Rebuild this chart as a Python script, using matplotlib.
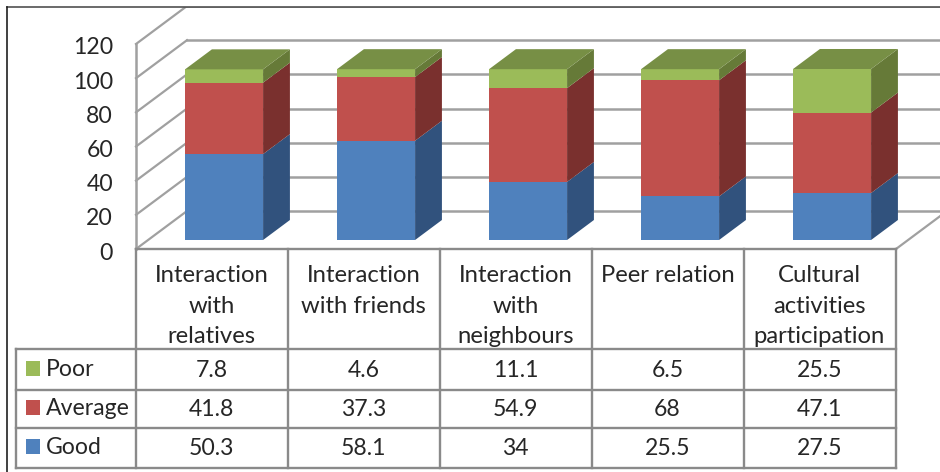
import matplotlib.pyplot as plt
from matplotlib.patches import Rectangle, Polygon
from matplotlib.transforms import Affine2D, ScaledTranslation

categories = [
    ["Interaction", "with", "relatives"],
    ["Interaction", "with friends"],
    ["Interaction", "with", "neighbours"],
    ["Peer relation"],
    ["Cultural", "activities", "participation"],
]
good = [50.3, 58.1, 34, 25.5, 27.5]
average = [41.8, 37.3, 54.9, 68, 47.1]
poor = [7.8, 4.6, 11.1, 6.5, 25.5]
y_ticks = [0, 20, 40, 60, 80, 100, 120]

W, H = 940, 472
FONT = "Lato"
FS = 16.6
FS_HEADER = 17.2
GRID = "#a0a0a0"
TABLE = "#8a8a8a"
TEXT = "#262626"

fig = plt.figure(figsize=(W / 100, H / 100), dpi=100)
fig.patch.set_facecolor("white")

# pixel coordinates for the frame and the data table
px = Affine2D().scale(1 / W, -1 / H).translate(0, 1) + fig.transFigure

ax = fig.add_axes([136 / W, 1 - 249 / H, 760 / W, 205 / H])
ax.set_xlim(0, 5)
ax.set_ylim(0, 120)
ax.set_xticks([])
ax.set_yticks(y_ticks)
ax.tick_params(axis="y", length=0, pad=16.5, labelsize=FS, labelcolor=TEXT)
for label in ax.get_yticklabels():
    label.set_family(FONT)
    label.set_transform(label.get_transform() + ScaledTranslation(0, -2 / 100, fig.dpi_scale_trans))
for s in ax.spines.values():
    s.set_visible(False)
ax.patch.set_visible(False)

# depth of the 3D box, in data units
DEPTH_X = 51 / 152
DEPTH_Y = 38 / (205 / 120)


def project(x, v, d):
    return x + d * DEPTH_X, v + d * DEPTH_Y


# walls and floor
for v in y_ticks:
    x0, y0 = project(0, v, 0)
    x1, y1 = project(0, v, 1)
    ax.plot([x0, x1], [y0, y1], color=GRID, lw=1.6, clip_on=False, zorder=1)
    x2, y2 = project(5, v, 1)
    ax.plot([x1, x2], [y1, y1], color=GRID, lw=1.8, clip_on=False, zorder=1)
x1, y1 = project(0, 0, 0)
x2, y2 = project(0, 120, 0)
ax.plot([x1, x2], [y1, y2], color=GRID, lw=1.8, clip_on=False, zorder=1)
x1, y1 = project(5, 0, 0)
x2, y2 = project(5, 0, 1)
ax.plot([x1, x2], [y1, y2], color=GRID, lw=1.6, clip_on=False, zorder=1)

# stacked 3D bars
series = [
    (good, "#4f81bd", "#31527d"),
    (average, "#c0504d", "#7a302e"),
    (poor, "#9bbb59", "#667a38"),
]
TOP = "#778f45"
BAR_W = 78 / 152
D0, D1 = 9 / 38, 9 / 38 + 20 / 38

for i in range(len(categories)):
    left = i + 0.5 - BAR_W / 2
    right = left + BAR_W
    base = 0
    for values, front, side in series:
        top = base + values[i]
        x_f, y_f = project(left, base, D0)
        ax.bar(x_f, values[i], bottom=y_f, width=BAR_W, align="edge", color=front,
               clip_on=False, zorder=3)
        ax.add_patch(Polygon([project(right, base, D0), project(right, top, D0),
                              project(right, top, D1), project(right, base, D1)],
                             closed=True, fc=side, ec="none", clip_on=False, zorder=3))
        base = top
    ax.add_patch(Polygon([project(left, base, D0), project(right, base, D0),
                          project(right, base, D1), project(left, base, D1)],
                         closed=True, fc=TOP, ec="none", clip_on=False, zorder=3))

# frame: hides what runs past the top edge
fig.add_artist(Rectangle((0, 0), W, 7, transform=px, fc="white", ec="none", zorder=5))
fig.add_artist(Rectangle((0, 0), 7, H, transform=px, fc="white", ec="none", zorder=5))
fig.add_artist(plt.Line2D([7, W], [7, 7], transform=px, color="#505050", lw=1.2, zorder=6))
fig.add_artist(plt.Line2D([7, 7], [7, H], transform=px, color="#202020", lw=1.2, zorder=6))

# data table under the chart
col_x = [136 + 152 * i for i in range(6)]
row_y = [349, 390, 428, 468]


def table_line(xs, ys):
    fig.add_artist(plt.Line2D(xs, ys, transform=px, color=TABLE, lw=1.7, zorder=4))


table_line([136, 896], [249, 249])
for y in row_y:
    table_line([16, 896], [y, y])
table_line([16, 16], [349, 468])
for x in col_x:
    table_line([x, x], [249, 468])

for i, lines in enumerate(categories):
    for k, line in enumerate(lines):
        fig.text(col_x[i] + 75.5, 282 + 30.7 * k, line, transform=px, ha="center", va="baseline",
                 family=FONT, fontsize=FS_HEADER, color=TEXT)

rows = [
    ("Poor", poor, "#9bbb59", 376),
    ("Average", average, "#c0504d", 415),
    ("Good", good, "#4f81bd", 454),
]
for name, values, color, base_y in rows:
    fig.add_artist(Rectangle((26, base_y - 15), 14, 15, transform=px, fc=color, ec="none", zorder=4))
    fig.text(46, base_y, name, transform=px, ha="left", va="baseline",
             family=FONT, fontsize=FS, color=TEXT)
    for i, v in enumerate(values):
        fig.text(col_x[i] + 75.5, base_y + 1, f"{v:g}", transform=px, ha="center", va="baseline",
                 family=FONT, fontsize=FS, color=TEXT)

fig.savefig("out.png", dpi=100)
